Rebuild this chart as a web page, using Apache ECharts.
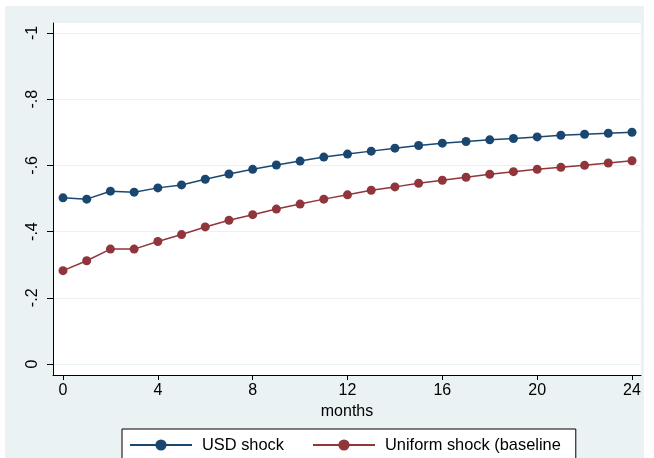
<!DOCTYPE html>
<html><head><meta charset="utf-8">
<script src="https://cdn.jsdelivr.net/npm/echarts@6/dist/echarts.min.js"></script>
<style>html,body{margin:0;padding:0;background:#fff}#c{width:654px;height:458px}</style>
</head><body><div id="c"></div>
<script>
const months = [0,1,2,3,4,5,6,7,8,9,10,11,12,13,14,15,16,17,18,19,20,21,22,23,24];
const usdShock = [-0.502,-0.498,-0.522,-0.519,-0.532,-0.541,-0.558,-0.574,-0.588,-0.601,-0.613,-0.625,-0.634,-0.643,-0.652,-0.660,-0.667,-0.672,-0.677,-0.681,-0.686,-0.691,-0.694,-0.697,-0.700];
const uniformShock = [-0.282,-0.312,-0.347,-0.347,-0.370,-0.391,-0.414,-0.434,-0.451,-0.468,-0.483,-0.498,-0.511,-0.525,-0.535,-0.546,-0.555,-0.564,-0.573,-0.581,-0.588,-0.594,-0.600,-0.607,-0.614];
const xTicks = [0,4,8,12,16,20,24];
const yTicks = [-1,-0.8,-0.6,-0.4,-0.2,0];
const seriesNames = ['USD shock','Uniform shock (baseline'];

const font = 'Liberation Sans, Arial, sans-serif';
const chart = echarts.init(document.getElementById('c'), null, {renderer:'canvas'});
function fmtY(v){ if (Math.abs(v) < 1e-9) return '0'; let s = (Math.round(v*10)/10).toString(); return s.replace('0.', '.'); }
chart.setOption({
  backgroundColor: '#ffffff',
  animation: false,
  graphic: [{type:'rect', shape:{x:5,y:6,width:639,height:452}, style:{fill:'#eaf2f3'}, z:-10, silent:true}],
  grid: {left:53, right:13, top:23, bottom:83, show:true, backgroundColor:'#ffffff', borderWidth:0},
  legend: {
    data: seriesNames, left:122, top:429,
    backgroundColor:'#ffffff', borderColor:'#000000', borderWidth:1,
    padding:[8,15,30,7], itemWidth:62, itemHeight:14, itemGap:28,
    textStyle:{fontFamily:font, fontSize:16.4, color:'#000', padding:[0,0,0,5]}
  },
  xAxis: {
    type:'value', min:-0.422, max:24.38,
    name:'months', nameLocation:'middle', nameGap:28,
    nameTextStyle:{fontFamily:font, fontSize:16, color:'#000'},
    axisLine:{show:true, onZero:false, lineStyle:{color:'#000', width:1}},
    axisTick:{show:true, length:5, lineStyle:{color:'#000'}, customValues:xTicks},
    axisLabel:{fontFamily:font, fontSize:16, color:'#000', margin:8, customValues:xTicks},
    splitLine:{show:false}
  },
  yAxis: {
    type:'value', inverse:true, min:-1.030, max:0.0332,
    axisLine:{show:true, onZero:false, lineStyle:{color:'#000', width:1}},
    axisTick:{show:true, length:6, lineStyle:{color:'#000'}, customValues:yTicks},
    axisLabel:{fontFamily:font, fontSize:16, color:'#000', rotate:90, margin:12, customValues:yTicks, formatter:fmtY},
    splitLine:{show:true, lineStyle:{color:'#eaf2f3', width:1}}
  },
  series: [
    {name:seriesNames[0], type:'line', data: months.map((m,i)=>[m, usdShock[i]]),
     symbol:'circle', symbolSize:9, itemStyle:{color:'#1a476f'}, lineStyle:{color:'#1a476f', width:1.5}},
    {name:seriesNames[1], type:'line', data: months.map((m,i)=>[m, uniformShock[i]]),
     symbol:'circle', symbolSize:9, itemStyle:{color:'#90353b'}, lineStyle:{color:'#90353b', width:1.5}}
  ]
});
</script></body></html>
